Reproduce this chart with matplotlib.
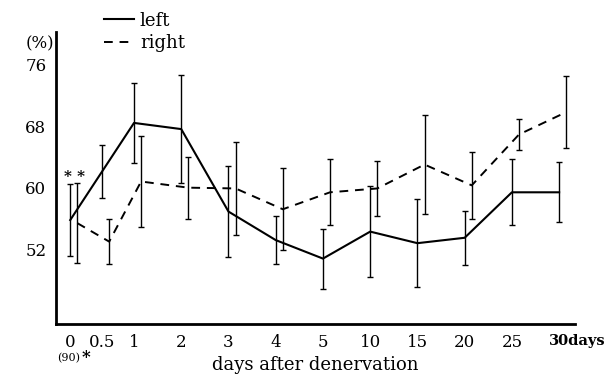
import numpy as np
import matplotlib
matplotlib.use("Agg")
import matplotlib.pyplot as plt
import matplotlib.transforms as mtransforms

# days after denervation (tick labels) and measured values (%)
days = ["0", "0.5", "1", "2", "3", "4", "5", "10", "15", "20", "25", "30days"]
left_mean = [55.8, 62.1, 68.4, 67.6, 56.9, 53.2, 50.8, 54.3, 52.8, 53.5, 59.4, 59.4]
left_err = [4.7, 3.5, 5.2, 7.0, 5.9, 3.1, 3.9, 5.9, 5.7, 3.5, 4.3, 3.9]
right_mean = [55.4, 53.0, 60.8, 60.0, 59.9, 57.2, 59.4, 59.9, 63.0, 60.3, 66.9, 69.8]
right_err = [5.2, 2.9, 5.9, 4.0, 6.0, 5.3, 4.3, 3.6, 6.4, 4.3, 2.0, 4.7]
yticks = [52, 60, 68, 76]

plt.rcParams['font.family'] = ['DejaVu Serif']

# the first three days are drawn closer together on the axis
xpos = np.r_[0, 0.675, 1.35 + np.arange(len(days) - 2)]
shift = 0.15

fig = plt.figure(figsize=(6.16, 3.76), dpi=100)
ax = fig.add_axes([0.091, 0.138, 0.842, 0.777])

ln_left = ax.errorbar(xpos, left_mean, yerr=left_err, color='black', lw=1.5,
                      elinewidth=1.0, capsize=2.5, capthick=1.0, label='left')
ln_right = ax.errorbar(xpos + shift, right_mean, yerr=right_err, color='black', lw=1.4,
                       linestyle=(0, (4.5, 3.5)), elinewidth=1.0, capsize=2.5,
                       capthick=1.0, label='right')

ax.set_xlim(-0.30, 10.68)
ax.set_ylim(42.3, 80.2)

ax.set_yticks(yticks)
ax.set_yticklabels([str(v) for v in yticks], fontsize=12)
ax.set_xticks(xpos)
ax.set_xticklabels(days, fontsize=12)
ax.tick_params(length=0, pad=7)

# "30days": keep the number under its tick, the unit trailing to the right
last = ax.get_xticklabels()[-1]
last.set_fontweight('bold')
last.set_fontsize(10.5)
last.set_horizontalalignment('left')
last.set_transform(last.get_transform() + mtransforms.ScaledTranslation(-10 / 100, 0, fig.dpi_scale_trans))

for s in ['top', 'right']:
    ax.spines[s].set_visible(False)
for s in ['left', 'bottom']:
    ax.spines[s].set_linewidth(2)

ax.set_xlabel('days after denervation', fontsize=13, labelpad=4)
ax.text(-0.33, 78.6, '(%)', fontsize=12, ha='right', va='center')
ax.text(xpos[0] + shift / 2 + 0.02, 61.4, '* *', fontsize=11, fontweight='bold', ha='center', va='center')
ax.annotate('(90)', xy=(xpos[0], 42.3), xytext=(-1.5, -24.5), textcoords='offset points',
            fontsize=8, ha='center', va='center', annotation_clip=False)
ax.annotate('*', xy=(xpos[0], 42.3), xytext=(11.5, -24), textcoords='offset points',
            fontsize=12, fontweight='bold', ha='center', va='center', annotation_clip=False)

leg = fig.legend(handles=[ln_left.lines[0], ln_right.lines[0]], labels=['left', 'right'],
                 loc='upper left', bbox_to_anchor=(0.142, 1.012), frameon=False,
                 fontsize=13, handlelength=1.7, handletextpad=0.3, labelspacing=0.25)

fig.savefig('out.png', dpi=100)
